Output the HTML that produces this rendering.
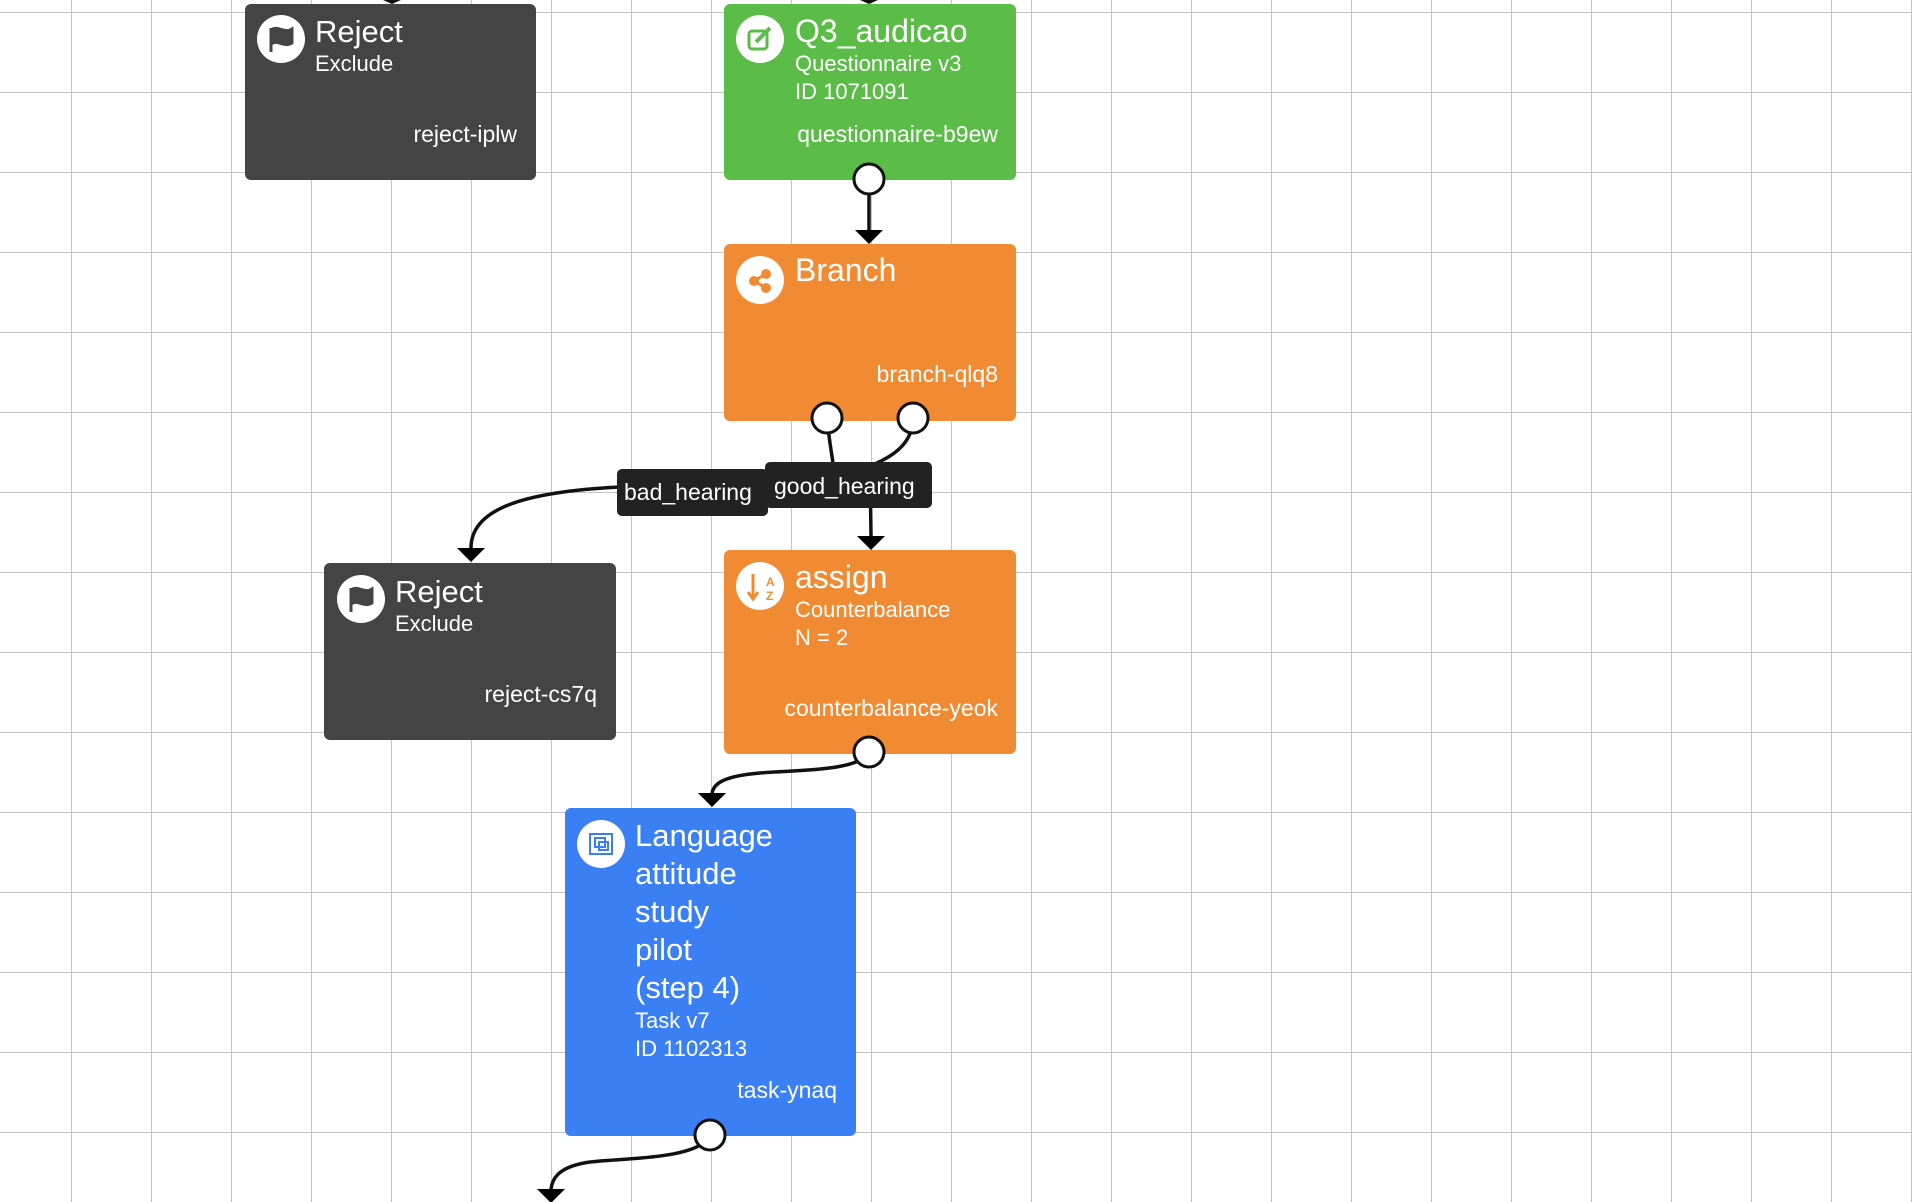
<!DOCTYPE html>
<html><head><meta charset="utf-8"><style>
html,body{margin:0;padding:0;width:1912px;height:1202px;overflow:hidden;background:#fff}
svg{display:block}
text{font-family:"Liberation Sans",sans-serif;fill:#fff}
</style></head><body>
<svg width="1912" height="1202" xmlns="http://www.w3.org/2000/svg">
<defs>
<pattern id="g" x="71" y="12" width="80" height="80" patternUnits="userSpaceOnUse">
<path d="M0 0V80M0 0H80" stroke="#c4c4c4" stroke-width="2" fill="none"/>
</pattern>
</defs>
<rect width="1912" height="1202" fill="#fff"/>
<rect width="1912" height="1202" fill="url(#g)"/>

<polygon points="383,0 401,0 392,4" fill="#111"/>
<polygon points="860,0 878,0 869,4" fill="#111"/>

<g stroke="#111" stroke-width="3.5" fill="none">
<path d="M869,180 L869,232"/>
<path d="M827,418 C829,440 832,455 834,470"/>
<path d="M913,418 C913,445 890,458 870,466 L871,536"/>
<path d="M620,487 C520,492 471,510 471,548"/>
<path d="M869,752 C860,772 790,770 760,773 C725,776 713,783 712,794"/>
<path d="M710,1135 C700,1160 620,1158 590,1162 C562,1166 552,1176 551,1190"/>
</g>
<g fill="#000">
<polygon points="855,230 883,230 869,244"/>
<polygon points="857,536 885,536 871,550"/>
<polygon points="457,548 485,548 471,562"/>
<polygon points="698,793 726,793 712,807"/>
<polygon points="537,1189 565,1189 551,1203"/>
</g>

<rect x="245" y="4" width="291" height="176" rx="6" fill="#444"/>
<circle cx="281" cy="39" r="24" fill="#fff"/>
<path d="M271,28 V52 M271,30 C278,25 284,34 292,29 V43 C284,48 278,39 271,44" fill="#444" stroke="#444" stroke-width="3"/>
<text x="315" y="42" font-size="31">Reject</text>
<text x="315" y="71" font-size="22">Exclude</text>
<text x="517" y="142" font-size="23" text-anchor="end">reject-iplw</text>

<rect x="724" y="4" width="292" height="176" rx="6" fill="#5bbd47"/>
<circle cx="760" cy="39" r="24" fill="#fff"/>
<rect x="749" y="31" width="18" height="18" rx="3" fill="none" stroke="#5bbd47" stroke-width="3"/>
<path d="M756,42 L770,28" stroke="#5bbd47" stroke-width="4"/>
<text x="795" y="42" font-size="32">Q3_audicao</text>
<text x="795" y="71" font-size="22">Questionnaire v3</text>
<text x="795" y="99" font-size="22">ID 1071091</text>
<text x="998" y="142" font-size="23" text-anchor="end">questionnaire-b9ew</text>
<circle cx="869" cy="179" r="15" fill="#fff" stroke="#111" stroke-width="3"/>

<rect x="724" y="244" width="292" height="177" rx="6" fill="#f08a33"/>
<circle cx="760" cy="280" r="24" fill="#fff"/>
<g fill="#f08a33"><circle cx="754" cy="281" r="5"/><circle cx="766" cy="274" r="5"/><circle cx="766" cy="288" r="5"/></g>
<path d="M754,281 L766,274 M754,281 L766,288" stroke="#f08a33" stroke-width="3"/>
<text x="795" y="281" font-size="32">Branch</text>
<text x="998" y="382" font-size="23" text-anchor="end">branch-qlq8</text>
<circle cx="827" cy="418" r="15" fill="#fff" stroke="#111" stroke-width="3"/>
<circle cx="913" cy="418" r="15" fill="#fff" stroke="#111" stroke-width="3"/>

<rect x="617" y="469" width="151" height="47" rx="5" fill="#222"/>
<text x="624" y="500" font-size="23">bad_hearing</text>
<rect x="765" y="462" width="167" height="46" rx="5" fill="#222"/>
<text x="774" y="494" font-size="23">good_hearing</text>

<rect x="324" y="563" width="292" height="177" rx="6" fill="#444"/>
<circle cx="361" cy="599" r="24" fill="#fff"/>
<path d="M351,588 V612 M351,590 C358,585 364,594 372,589 V603 C364,608 358,599 351,604" fill="#444" stroke="#444" stroke-width="3"/>
<text x="395" y="602" font-size="31">Reject</text>
<text x="395" y="631" font-size="22">Exclude</text>
<text x="597" y="702" font-size="23" text-anchor="end">reject-cs7q</text>

<rect x="724" y="550" width="292" height="204" rx="6" fill="#f08a33"/>
<circle cx="760" cy="586" r="24" fill="#fff"/>
<path d="M753,574 V598 M748,592 L753,599 L758,592" stroke="#f08a33" stroke-width="3" fill="none"/>
<text x="766" y="586" font-size="12" font-weight="bold" style="fill:#f08a33">A</text>
<text x="766" y="600" font-size="12" font-weight="bold" style="fill:#f08a33">Z</text>
<text x="795" y="588" font-size="32">assign</text>
<text x="795" y="617" font-size="22">Counterbalance</text>
<text x="795" y="645" font-size="22">N = 2</text>
<text x="998" y="716" font-size="23" text-anchor="end">counterbalance-yeok</text>
<circle cx="869" cy="752" r="15" fill="#fff" stroke="#111" stroke-width="3"/>

<rect x="565" y="808" width="291" height="328" rx="6" fill="#3b7ff5"/>
<circle cx="601" cy="844" r="24" fill="#fff"/>
<rect x="590" y="834" width="22" height="20" fill="none" stroke="#3b7ff5" stroke-width="2"/>
<rect x="595" y="838" width="10" height="9" fill="none" stroke="#3b7ff5" stroke-width="2"/>
<rect x="599" y="842" width="9" height="8" fill="none" stroke="#3b7ff5" stroke-width="2"/>
<text font-size="31"><tspan x="635" y="846">Language</tspan><tspan x="635" y="884">attitude</tspan><tspan x="635" y="922">study</tspan><tspan x="635" y="960">pilot</tspan><tspan x="635" y="998">(step 4)</tspan></text>
<text x="635" y="1028" font-size="22">Task v7</text>
<text x="635" y="1056" font-size="22">ID 1102313</text>
<text x="837" y="1098" font-size="23" text-anchor="end">task-ynaq</text>
<circle cx="710" cy="1135" r="15" fill="#fff" stroke="#111" stroke-width="3"/>
</svg>
</body></html>
